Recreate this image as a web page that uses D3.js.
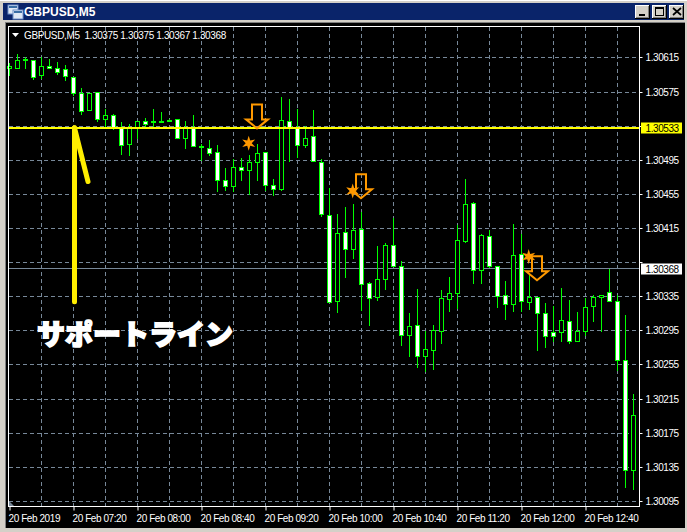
<!DOCTYPE html>
<html>
<head>
<meta charset="utf-8">
<script src="https://cdn.jsdelivr.net/npm/d3@7"></script>
<style>
html,body{margin:0;padding:0;background:#d4d0c8;overflow:hidden}
svg{display:block}
text{font-family:"Liberation Sans",Arial,sans-serif}
</style>
</head>
<body>
<svg id="c" width="687" height="532"></svg>
<script>
const symbolTitle = "GBPUSD,M5";
const headerText = "GBPUSD,M5  1.30375 1.30375 1.30367 1.30368";
const annotation = "サポートライン";

const opens = [1.30603,1.30603,1.30612,1.30612,1.30594,1.30605,1.30602,1.30601,1.30592,1.30573,1.30553,1.30574,1.30543,1.30547,1.30533,1.30513,1.30533,1.30541,1.30539,1.30540,1.30541,1.30543,1.30520,1.30532,1.30510,1.30509,1.30504,1.30471,1.30464,1.30486,1.30483,1.30492,1.30504,1.30465,1.30461,1.30541,1.30532,1.30512,1.30523,1.30492,1.30430,1.30329,1.30410,1.30390,1.30414,1.30350,1.30334,1.30355,1.30395,1.30370,1.30290,1.30301,1.30265,1.30272,1.30294,1.30332,1.30339,1.30400,1.30444,1.30366,1.30406,1.30370,1.30336,1.30326,1.30384,1.30328,1.30334,1.30315,1.30293,1.30293,1.30306,1.30283,1.30294,1.30323,1.30334,1.30340,1.30329,1.30260,1.30131];
const highs = [1.30608,1.30619,1.30616,1.30612,1.30616,1.30613,1.30610,1.30606,1.30592,1.30579,1.30573,1.30575,1.30555,1.30549,1.30539,1.30537,1.30541,1.30544,1.30555,1.30551,1.30543,1.30543,1.30540,1.30548,1.30513,1.30518,1.30512,1.30485,1.30496,1.30497,1.30501,1.30514,1.30504,1.30473,1.30568,1.30566,1.30555,1.30534,1.30553,1.30496,1.30462,1.30431,1.30440,1.30443,1.30434,1.30352,1.30394,1.30397,1.30427,1.30376,1.30315,1.30343,1.30294,1.30301,1.30342,1.30357,1.30418,1.30473,1.30445,1.30408,1.30413,1.30370,1.30353,1.30420,1.30408,1.30362,1.30334,1.30327,1.30324,1.30345,1.30330,1.30316,1.30333,1.30337,1.30336,1.30367,1.30336,1.30313,1.30220];
const lows = [1.30594,1.30603,1.30602,1.30590,1.30591,1.30602,1.30595,1.30589,1.30571,1.30549,1.30553,1.30540,1.30534,1.30531,1.30502,1.30501,1.30521,1.30534,1.30534,1.30539,1.30540,1.30520,1.30509,1.30511,1.30495,1.30500,1.30458,1.30459,1.30458,1.30471,1.30455,1.30471,1.30459,1.30454,1.30459,1.30494,1.30498,1.30510,1.30493,1.30429,1.30328,1.30317,1.30358,1.30380,1.30319,1.30301,1.30330,1.30344,1.30370,1.30278,1.30265,1.30252,1.30247,1.30250,1.30280,1.30318,1.30321,1.30398,1.30350,1.30351,1.30369,1.30322,1.30308,1.30318,1.30318,1.30320,1.30272,1.30276,1.30282,1.30283,1.30280,1.30282,1.30290,1.30306,1.30294,1.30329,1.30249,1.30111,1.30109];
const closes = [1.30605,1.30612,1.30613,1.30592,1.30605,1.30602,1.30598,1.30593,1.30573,1.30552,1.30573,1.30543,1.30547,1.30533,1.30512,1.30532,1.30541,1.30537,1.30540,1.30541,1.30542,1.30520,1.30532,1.30511,1.30511,1.30503,1.30471,1.30464,1.30486,1.30483,1.30492,1.30503,1.30465,1.30461,1.30542,1.30533,1.30512,1.30521,1.30493,1.30431,1.30328,1.30409,1.30390,1.30413,1.30349,1.30333,1.30355,1.30395,1.30370,1.30290,1.30300,1.30265,1.30273,1.30295,1.30333,1.30339,1.30401,1.30443,1.30366,1.30407,1.30370,1.30335,1.30326,1.30383,1.30329,1.30334,1.30315,1.30288,1.30288,1.30307,1.30283,1.30294,1.30322,1.30334,1.30336,1.30329,1.30260,1.30131,1.30196];

const priceTicks = [1.30615,1.30575,1.30535,1.30495,1.30455,1.30415,1.30375,1.30335,1.30295,1.30255,1.30215,1.30175,1.30135,1.30095];
const priceLabels = ["1.30615","1.30575","","1.30495","1.30455","1.30415","","1.30335","1.30295","1.30255","1.30215","1.30175","1.30135","1.30095"];
const timeTicks = [0,8,16,24,32,40,48,56,64,72];
const timeLabels = ["20 Feb 2019","20 Feb 07:20","20 Feb 08:00","20 Feb 08:40","20 Feb 09:20","20 Feb 10:00","20 Feb 10:40","20 Feb 11:20","20 Feb 12:00","20 Feb 12:40"];
const gridBars = [4,8,12,16,20,24,28,32,36,40,44,48,52,56,60,64,68,72,76];

const supportPrice = 1.30533;
const bidPrice = 1.30368;
const arrowBars = [31,44,66];
const arrowPrices = [1.30530,1.30448,1.30352];
const starBars = [30,43,65];
const starPrices = [1.30515,1.30459,1.30382];
const supportBar = 8;
const supportBottomPrice = 1.30329;
const supportTickPrice = 1.30470;
const supportTickBar = 10;

const svg = d3.select("#c");
const x = d3.scaleLinear().domain([0,78]).range([9.5,633.5]);
const y = d3.scaleLinear().domain([1.30095,1.30615]).range([501.4,57.9]);
const py = v => Math.floor(y(v)) + 0.5;

// window chrome
svg.append("rect").attr("width",687).attr("height",532).attr("fill","#d4d0c8");
svg.append("rect").attr("x",0).attr("y",0).attr("width",687).attr("height",1).attr("fill","#fff");
svg.append("rect").attr("x",3).attr("y",3).attr("width",681).attr("height",17).attr("fill","#0a246a");
svg.append("rect").attr("x",3).attr("y",20).attr("width",681).attr("height",3).attr("fill","#d4d0c8");
svg.append("rect").attr("x",5).attr("y",22).attr("width",680).attr("height",506).attr("fill","#808080");
svg.append("rect").attr("x",6).attr("y",23).attr("width",679).attr("height",505).attr("fill","#000");

// title icon
[[8,5],[13,10]].forEach(p=>{
  svg.append("rect").attr("x",p[0]).attr("y",p[1]).attr("width",10).attr("height",9).attr("fill","#dfe8f5").attr("stroke","#6f8fc8");
  svg.append("rect").attr("x",p[0]+1).attr("y",p[1]+1).attr("width",8).attr("height",2).attr("fill","#3a6ea5");
});
svg.append("text").attr("x",24).attr("y",16).attr("fill","#fff").attr("font-size",12).attr("font-weight","bold").text(symbolTitle);

// window buttons
[635,652,669].forEach(bx=>{
  svg.append("rect").attr("x",bx).attr("y",5).attr("width",15).attr("height",14).attr("fill","#000");
  svg.append("rect").attr("x",bx).attr("y",5).attr("width",14).attr("height",13).attr("fill","#fff");
  svg.append("rect").attr("x",bx+1).attr("y",6).attr("width",13).attr("height",12).attr("fill","#808080");
  svg.append("rect").attr("x",bx+1).attr("y",6).attr("width",12).attr("height",11).attr("fill","#d4d0c8");
});
svg.append("rect").attr("x",639).attr("y",14).attr("width",6).attr("height",2).attr("fill","#000");
svg.append("rect").attr("x",655.5).attr("y",7.5).attr("width",8).attr("height",8).attr("fill","none").attr("stroke","#000");
svg.append("rect").attr("x",655).attr("y",7).attr("width",9).attr("height",2).attr("fill","#000");
svg.append("path").attr("d","M673 8L681 15M681 8L673 15").attr("stroke","#000").attr("stroke-width",1.7);

// grid
const grid = svg.append("g").attr("stroke","#778899").attr("stroke-dasharray","4,3").attr("fill","none");
grid.selectAll("line.h").data(priceTicks).join("line").attr("class","h")
  .attr("x1",9).attr("x2",639).attr("y1",py).attr("y2",py);
grid.selectAll("line.v").data(gridBars).join("line").attr("class","v")
  .attr("x1",d=>x(d)).attr("x2",d=>x(d)).attr("y1",27).attr("y2",506);

// bid line
svg.append("line").attr("x1",9).attr("x2",639).attr("y1",py(bidPrice)).attr("y2",py(bidPrice)).attr("stroke","#778899");

// candles
const idx = d3.range(opens.length);
const green = "#00ff00";
const candles = svg.append("g");
candles.selectAll("line").data(idx).join("line")
  .attr("x1",i=>x(i)).attr("x2",i=>x(i))
  .attr("y1",i=>Math.floor(y(highs[i]))).attr("y2",i=>Math.floor(y(lows[i]))+1)
  .attr("stroke",green);
candles.selectAll("rect").data(idx).join("rect")
  .attr("x",i=>x(i)-2).attr("width",4)
  .attr("y",i=>py(Math.max(opens[i],closes[i])))
  .attr("height",i=>Math.max(1,py(Math.min(opens[i],closes[i]))-py(Math.max(opens[i],closes[i]))))
  .attr("fill",i=>closes[i]<opens[i]?"#fff":"#000")
  .attr("stroke",green);

// support line and hand-drawn yellow strokes
svg.append("line").attr("x1",9).attr("x2",639).attr("y1",Math.round(y(supportPrice))).attr("y2",Math.round(y(supportPrice)))
  .attr("stroke","#ffff00").attr("stroke-width",2);
svg.append("line").attr("x1",x(supportBar)+1).attr("x2",x(supportBar)+1)
  .attr("y1",y(supportPrice)).attr("y2",y(supportBottomPrice))
  .attr("stroke","#ffee00").attr("stroke-width",5).attr("stroke-linecap","round");
svg.append("line").attr("x1",x(supportBar)+1).attr("x2",x(supportTickBar)-1.5)
  .attr("y1",y(supportPrice)).attr("y2",y(supportTickPrice))
  .attr("stroke","#ffee00").attr("stroke-width",5).attr("stroke-linecap","round");

// frame
svg.append("rect").attr("x",8.5).attr("y",26.5).attr("width",631).attr("height",480)
  .attr("fill","none").attr("stroke","#fff");
svg.append("path").attr("d","M9 501L14 506L9 506Z").attr("fill","#778899");

// price axis
const yAxis = d3.axisRight(y).tickValues(priceTicks).tickSize(3).tickPadding(3)
  .tickFormat((d,i)=>priceLabels[i]);
const yg = svg.append("g").attr("transform","translate(639.5,0)").call(yAxis);
yg.select(".domain").remove();
yg.selectAll(".tick").attr("transform",d=>`translate(0,${py(d)})`);
yg.selectAll("line").attr("stroke","#fff");
yg.selectAll("text").attr("x",6).attr("dy",null).attr("y",3.5).attr("fill","#fff")
  .attr("font-size",10).style("letter-spacing","-0.42px");

// time axis
const xAxis = d3.axisBottom(x).tickValues(timeTicks).tickSize(4).tickPadding(3)
  .tickFormat((d,i)=>timeLabels[i]);
const xg = svg.append("g").attr("transform","translate(0,506.5)").call(xAxis);
xg.select(".domain").remove();
xg.selectAll("line").attr("stroke","#fff");
xg.selectAll("text").attr("text-anchor","start").attr("x",-1.5).attr("dy",null).attr("y",15.5).attr("fill","#fff")
  .attr("font-size",10).style("letter-spacing","-0.42px");

// price tags
function tag(price,bg,txt){
  const cy = Math.round(y(price));
  svg.append("rect").attr("x",641).attr("y",cy-5.5).attr("width",41).attr("height",11).attr("fill",bg);
  svg.append("text").attr("x",645.5).attr("y",cy+3.5).attr("fill",txt).attr("font-size",10)
    .style("letter-spacing","-0.42px").text(price.toFixed(5));
}
tag(supportPrice,"#ffff00","#000");
tag(bidPrice,"#ffffff","#000");

// header
svg.append("path").attr("d","M12 33L19 33L15.5 37Z").attr("fill","#fff");
svg.append("text").attr("x",24).attr("y",38.5).attr("fill","#fff").attr("font-size",10)
  .style("white-space","pre").style("letter-spacing","-0.37px").text(headerText);

// orange arrows
const arrowShape = [[-5,-24],[5,-24],[5,-9],[11,-9],[0,0],[-11,-9],[-5,-9]];
const arrowLine = d3.line().curve(d3.curveLinearClosed);
const arrows = svg.append("g");
arrows.selectAll("path").data(arrowBars).join("path")
  .attr("transform",(d,i)=>`translate(${x(d)-0.5},${y(arrowPrices[i])-2})`)
  .attr("d",arrowLine(arrowShape))
  .attr("fill","none").attr("stroke","#ff9900").attr("stroke-width",2).attr("stroke-linejoin","miter");

// orange stars
const starPath = d3.lineRadial().curve(d3.curveLinearClosed)(
  d3.range(12).map(k=>[k*Math.PI/6, k%2?3:7.5]));
svg.append("g").selectAll("path").data(starBars).join("path")
  .attr("transform",(d,i)=>`translate(${x(d)-0.8},${y(starPrices[i])})`)
  .attr("d",starPath).attr("fill","#ff9900");

// annotation
svg.append("text").attr("x",37).attr("y",345)
  .attr("font-size",28).attr("font-weight",900)
  .style("font-family",'"Noto Sans CJK JP"')
  .attr("fill","#fff").attr("stroke","#fff").attr("stroke-width",1.6)
  .text(annotation);
</script>
</body>
</html>
